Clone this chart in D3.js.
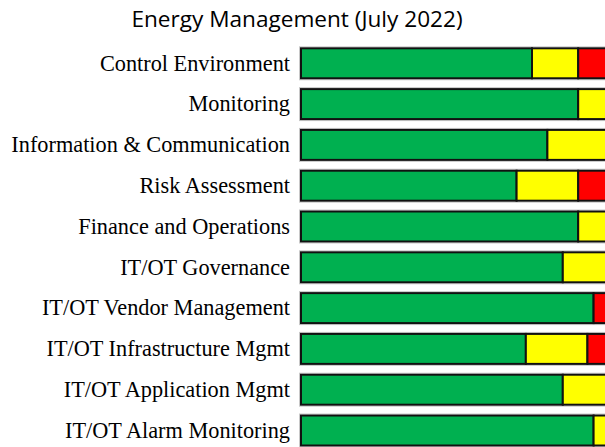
<!DOCTYPE html>
<html>
<head>
<meta charset="utf-8">
<script src="https://cdn.jsdelivr.net/npm/d3@7"></script>
<style>
  html, body { margin: 0; padding: 0; background: #fff; overflow: hidden; }
  svg { display: block; }
</style>
</head>
<body>
<div id="chart"></div>
<script>
// Control areas, top to bottom
const categories = [
  "Control Environment",
  "Monitoring",
  "Information & Communication",
  "Risk Assessment",
  "Finance and Operations",
  "IT/OT Governance",
  "IT/OT Vendor Management",
  "IT/OT Infrastructure Mgmt",
  "IT/OT Application Mgmt",
  "IT/OT Alarm Monitoring"
];

// Share of controls per rating (percent)
const greenValues  = [75, 90, 80, 70, 90, 85, 95, 73, 85, 95];
const yellowValues = [15, 10, 20, 20, 10, 15,  0, 20, 15,  5];
const redValues    = [10,  0,  0, 10,  0,  0,  5,  7,  0,  0];

const seriesKeys = ["green", "yellow", "red"];
const seriesColors = { green: "#00B050", yellow: "#FFFF00", red: "#FF0000" };

const width = 605, height = 447;

const rows = categories.map((c, i) => ({
  category: c,
  green: greenValues[i],
  yellow: yellowValues[i],
  red: redValues[i]
}));

const stacked = d3.stack().keys(seriesKeys)(rows);

const svg = d3.select("#chart").append("svg")
  .attr("width", width)
  .attr("height", height);

const x = d3.scaleLinear().domain([0, 100]).range([301, 609]);
const y = d3.scaleBand()
  .domain(categories)
  .range([48.3, 445.5])
  .paddingInner(0.265)
  .paddingOuter(0);

// Title
svg.append("text")
  .attr("x", 297)
  .attr("y", 27)
  .attr("text-anchor", "middle")
  .attr("font-family", "'Open Sans', sans-serif")
  .attr("font-size", 22.6)
  .attr("fill", "#000")
  .text("Energy Management (July 2022)");

// Soft outline behind each bar
svg.append("g")
  .selectAll("rect")
  .data(rows)
  .join("rect")
  .attr("x", x(0) - 1.5)
  .attr("y", d => y(d.category) - 1.5)
  .attr("width", x(100) - x(0) + 3)
  .attr("height", y.bandwidth() + 3)
  .attr("fill", "none")
  .attr("stroke", "#c8c8c8")
  .attr("stroke-width", 1);

// Stacked segments
svg.append("g")
  .selectAll("g")
  .data(stacked)
  .join("g")
  .attr("fill", d => seriesColors[d.key])
  .selectAll("rect")
  .data(d => d.filter(s => s[1] - s[0] > 0))
  .join("rect")
  .attr("x", d => x(d[0]))
  .attr("y", d => y(d.data.category))
  .attr("width", d => x(d[1]) - x(d[0]))
  .attr("height", y.bandwidth())
  .attr("stroke", "#111")
  .attr("stroke-width", 2);

// Category labels
const yAxis = d3.axisLeft(y).tickSize(0).tickPadding(0);
const axisG = svg.append("g")
  .attr("transform", "translate(290,0)")
  .call(yAxis);
axisG.select(".domain").remove();
axisG.selectAll("text")
  .attr("font-family", "'Liberation Serif', serif")
  .attr("font-size", 22.3)
  .attr("fill", "#000")
  .attr("dy", "0.33em");
</script>
</body>
</html>
